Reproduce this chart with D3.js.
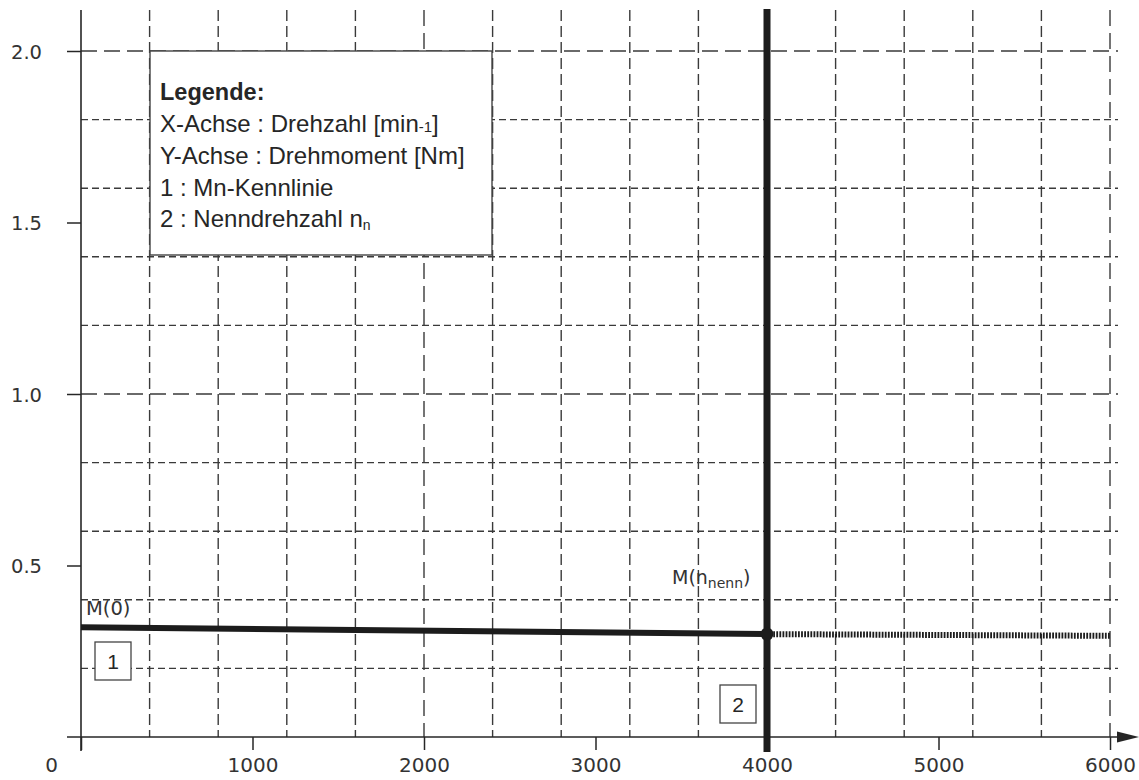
<!DOCTYPE html>
<html>
<head>
<meta charset="utf-8">
<script src="https://cdn.jsdelivr.net/npm/d3@7"></script>
<style>
  html, body { margin: 0; padding: 0; background: #fff; }
  svg { display: block; }
</style>
</head>
<body>
<svg id="chart" width="1139" height="780"></svg>
<script>
// Drehzahl [min-1] and Drehmoment [Nm]
const xTicks = [0, 1000, 2000, 3000, 4000, 5000, 6000];
const yTicks = [0.5, 1.0, 1.5, 2.0];
const xGridMajor = [2000, 6000];
const yGridMajor = [1.0, 2.0];

// Mn-Kennlinie up to the rated speed, then its continuation beyond it
const kennlinie = [
  { n: 0, m: 0.32 },
  { n: 4000, m: 0.30 }
];
const kennlinieWeiter = [
  { n: 4000, m: 0.30 },
  { n: 6000, m: 0.295 }
];
const nennDrehzahl = 4000;

const legendLines = [
  "X-Achse : Drehzahl [min",
  "Y-Achse : Drehmoment [Nm]",
  "1 : Mn-Kennlinie",
  "2 : Nenndrehzahl n"
];

const svg = d3.select("#chart");
const ink = "#262626";
const gridInk = "#3a3a3a";

const x = d3.scaleLinear().domain([0, 6000]).range([81, 1110]);
const y = d3.scaleLinear().domain([0, 2]).range([737, 51]);

// grid
const xGrid = d3.range(400, 6001, 400);
const yGrid = d3.range(0.2, 2.01, 0.2).map(v => +v.toFixed(1));

const grid = svg.append("g");
grid.selectAll("line.v").data(xGrid).join("line")
  .attr("x1", d => x(d)).attr("x2", d => x(d))
  .attr("y1", 10).attr("y2", y(0))
  .attr("stroke", gridInk).attr("stroke-width", 1.4)
  .attr("stroke-dasharray", d => xGridMajor.includes(d) ? "16,7" : "11,5");
grid.selectAll("line.h").data(yGrid).join("line")
  .attr("x1", x(0)).attr("x2", 1118)
  .attr("y1", d => y(d)).attr("y2", d => y(d))
  .attr("stroke", gridInk).attr("stroke-width", 1.4)
  .attr("stroke-dasharray", d => yGridMajor.includes(d) ? "16,7" : "7,4");

// legend box
const lg = svg.append("g");
lg.append("rect")
  .attr("x", 150).attr("y", y(2.0))
  .attr("width", 342).attr("height", 204)
  .attr("fill", "#fff").attr("stroke", "#444").attr("stroke-width", 1.4);
lg.append("text")
  .attr("x", 160).attr("y", 100)
  .attr("font-family", "Liberation Sans, Arial, sans-serif")
  .attr("font-size", 23.5).attr("font-weight", "bold").attr("fill", ink)
  .text("Legende:");
legendLines.forEach((t, i) => {
  const tx = lg.append("text")
    .attr("x", 160).attr("y", 132 + i * 31.8)
    .attr("font-family", "Liberation Sans, Arial, sans-serif")
    .attr("font-size", 24).attr("fill", ink);
  tx.append("tspan").text(t);
  if (i === 0) {
    tx.append("tspan").attr("font-size", 15).text("-1");
    tx.append("tspan").text("]");
  }
  if (i === 3) {
    tx.append("tspan").attr("font-size", 14).attr("dy", 3).text("n");
  }
});

// axes
const axisFont = "DejaVu Sans, Verdana, sans-serif";
const xAxis = svg.append("g")
  .attr("transform", `translate(0,${y(0)})`)
  .call(d3.axisBottom(x).tickValues(xTicks).tickSize(13).tickFormat(d3.format("d")));
xAxis.select(".domain").remove();
xAxis.selectAll(".tick line").attr("stroke", ink).attr("stroke-width", 1.5);
xAxis.selectAll(".tick text")
  .attr("y", 35).attr("dy", 0)
  .attr("font-family", axisFont).attr("font-size", 20).attr("fill", "#333")
  .attr("dx", d => d === 0 ? -30 : 0);

const yAxis = svg.append("g")
  .attr("transform", `translate(${x(0)},0)`)
  .call(d3.axisLeft(y).tickValues(yTicks).tickSize(14).tickFormat(d3.format(".1f")));
yAxis.select(".domain").remove();
yAxis.selectAll(".tick line").attr("stroke", ink).attr("stroke-width", 1.5);
yAxis.selectAll(".tick text")
  .attr("x", -39).attr("dy", "0.36em")
  .attr("font-family", axisFont).attr("font-size", 19.5).attr("fill", "#333");

// axis lines with arrow on the speed axis
svg.append("line")
  .attr("x1", x(0)).attr("x2", x(0)).attr("y1", 10).attr("y2", 751)
  .attr("stroke", ink).attr("stroke-width", 1.6);
svg.append("line")
  .attr("x1", 67).attr("x2", 1125).attr("y1", y(0)).attr("y2", y(0))
  .attr("stroke", ink).attr("stroke-width", 1.6);
svg.append("path")
  .attr("d", `M1117,${y(0) - 5.5} L1139,${y(0)} L1117,${y(0) + 5.5} Z`)
  .attr("fill", ink);

// rated speed line (2)
svg.append("line")
  .attr("x1", x(nennDrehzahl)).attr("x2", x(nennDrehzahl))
  .attr("y1", 9).attr("y2", 752)
  .attr("stroke", "#1c1c1c").attr("stroke-width", 7);

// torque characteristic (1)
const line = d3.line().x(d => x(d.n)).y(d => y(d.m));
svg.append("path").datum(kennlinie)
  .attr("d", line).attr("fill", "none")
  .attr("stroke", "#1c1c1c").attr("stroke-width", 6);
svg.append("path").datum(kennlinieWeiter)
  .attr("d", line).attr("fill", "none")
  .attr("stroke", "#1c1c1c").attr("stroke-width", 6)
  .attr("stroke-dasharray", "1.8,1.3");
svg.append("circle")
  .attr("cx", x(nennDrehzahl)).attr("cy", y(kennlinie[1].m)).attr("r", 6.5)
  .attr("fill", "#1c1c1c");

// point labels
svg.append("text")
  .attr("x", 86).attr("y", 615)
  .attr("font-family", axisFont).attr("font-size", 19.5).attr("fill", "#333")
  .text("M(0)");
const mn = svg.append("text")
  .attr("x", 672).attr("y", 584)
  .attr("font-family", axisFont).attr("font-size", 19).attr("fill", "#333");
mn.append("tspan").text("M(n");
mn.append("tspan").attr("font-size", 14).attr("dy", 4).text("nenn");
mn.append("tspan").attr("dy", -4).text(")");

// numbered boxes
const marks = [
  { label: "1", x0: 95, y0: 642 },
  { label: "2", x0: 720, y0: 685 }
];
const mk = svg.append("g").selectAll("g").data(marks).join("g")
  .attr("transform", d => `translate(${d.x0},${d.y0})`);
mk.append("rect").attr("width", 36).attr("height", 38)
  .attr("fill", "#fff").attr("stroke", "#444").attr("stroke-width", 1.3);
mk.append("text").attr("x", 18).attr("y", 19).attr("dy", "0.36em")
  .attr("text-anchor", "middle")
  .attr("font-family", "Liberation Sans, Arial, sans-serif")
  .attr("font-size", 21).attr("fill", ink)
  .text(d => d.label);
</script>
</body>
</html>
